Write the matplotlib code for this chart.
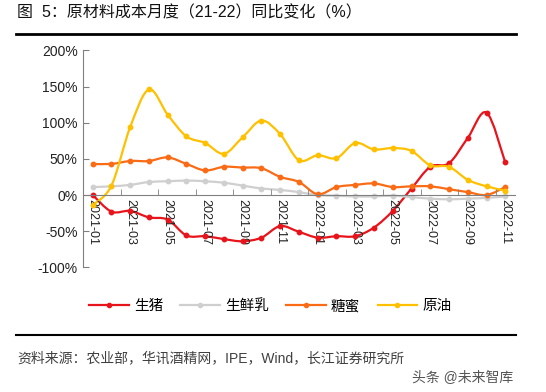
import matplotlib
matplotlib.use("Agg")
import matplotlib.pyplot as plt
import numpy as np
from matplotlib.path import Path
from matplotlib.patches import PathPatch
from matplotlib.lines import Line2D

plt.rcParams['font.family'] = ['Liberation Sans', 'Noto Sans CJK SC', 'DejaVu Sans']

months = ['2021-01', '2021-02', '2021-03', '2021-04', '2021-05', '2021-06',
          '2021-07', '2021-08', '2021-09', '2021-10', '2021-11', '2021-12',
          '2022-01', '2022-02', '2022-03', '2022-04', '2022-05', '2022-06',
          '2022-07', '2022-08', '2022-09', '2022-10', '2022-11']

pig = [0, -23, -22, -31, -34, -56, -57, -61, -64, -59, -43, -51,
       -59, -57, -57, -45, -22, 9, 39, 44, 79, 114, 45]
milk = [11, 12, 14, 18, 19, 20, 19, 17, 13, 9, 7, 4,
        0, -1, -2, -2, -1, -3, -5, -6, -5, -4, -2]
molasses = [43, 43, 47, 47, 52, 43, 34, 39, 38, 37, 25, 18,
            1, 11, 14, 16, 11, 12, 12, 8, 4, 0, 11]
crude = [-14, 13, 94, 146, 111, 81, 72, 57, 80, 103, 84, 48,
         55, 51, 72, 63, 65, 61, 41, 39, 21, 12, 6]

series = [('生猪', pig, '#E8141B'),
          ('生鲜乳', milk, '#CFCFCF'),
          ('糖蜜', molasses, '#FA6B15'),
          ('原油', crude, '#FFC000')]


def smooth_path(x, y):
    # catmull-rom style cubic bezier through the points
    pts = np.column_stack([x, y]).astype(float)
    n = len(pts)
    verts = [pts[0]]
    codes = [Path.MOVETO]
    for i in range(n - 1):
        p0 = pts[i - 1] if i > 0 else pts[i]
        p1 = pts[i]
        p2 = pts[i + 1]
        p3 = pts[i + 2] if i + 2 < n else pts[i + 1]
        c1 = p1 + (p2 - p0) / 6.0
        c2 = p2 - (p3 - p1) / 6.0
        verts += [c1, c2, p2]
        codes += [Path.CURVE4] * 3
    return Path(verts, codes)


fig = plt.figure(figsize=(5.46, 3.92), dpi=100)
ax = fig.add_axes([0.1526, 0.3181, 0.790, 0.5533])

x = np.arange(len(months))
for name, vals, color in series:
    ax.add_patch(PathPatch(smooth_path(x, vals), facecolor='none',
                           edgecolor=color, lw=1.6, capstyle='round'))
    ax.plot(x, vals, ls='none', marker='o', ms=3.2, color=color)

ax.set_xlim(-0.5, len(months) - 0.5)
ax.set_ylim(-100, 200)
ax.set_yticks(np.arange(-100, 201, 50))
ax.set_yticklabels([f'{v}%' for v in range(-100, 201, 50)], fontsize=10, color='#222222')

for s in ['top', 'right']:
    ax.spines[s].set_visible(False)
ax.spines['left'].set_color('#808080')
ax.spines['bottom'].set_color('#808080')
ax.spines['bottom'].set_position(('data', 0))
ax.tick_params(axis='y', direction='in', length=4, color='#808080', pad=4)

ax.set_xticks(x[::2])
ax.set_xticklabels(months[::2], rotation=270, fontsize=9, color='#222222')
ax.set_xticks(np.arange(1.5, len(months), 2), minor=True)
ax.tick_params(axis='x', which='major', length=0, pad=3)
ax.tick_params(axis='x', which='minor', direction='in', length=4, color='#808080')

handles = [Line2D([], [], color=c, lw=1.6, marker='o', ms=3) for _, _, c in series]
fig.legend(handles, [n for n, _, _ in series], loc='center', bbox_to_anchor=(0.495, 0.219),
           ncol=4, frameon=False, fontsize=10.5, handlelength=2.7, handletextpad=0.35,
           columnspacing=1.2)

fig.text(0.031, 0.967, '图  5：原材料成本月度（21-22）同比变化（%）', fontsize=11.5,
         va='center', ha='left', color='#111111')
fig.add_artist(Line2D([16 / 546, 516 / 546], [1 - 34 / 392, 1 - 34 / 392], color='black', lw=2))
fig.add_artist(Line2D([16 / 546, 516 / 546], [1 - 335 / 392, 1 - 335 / 392], color='black', lw=1.5))
fig.text(0.031, 1 - 358 / 392, '资料来源：农业部，华讯酒精网，IPE，Wind，长江证券研究所', fontsize=10,
         va='center', ha='left', color='#404040')
fig.text(0.94, 1 - 378 / 392, '头条 @未来智库', fontsize=10, va='center', ha='right', color='#555555')

fig.savefig('out.png', dpi=100)
